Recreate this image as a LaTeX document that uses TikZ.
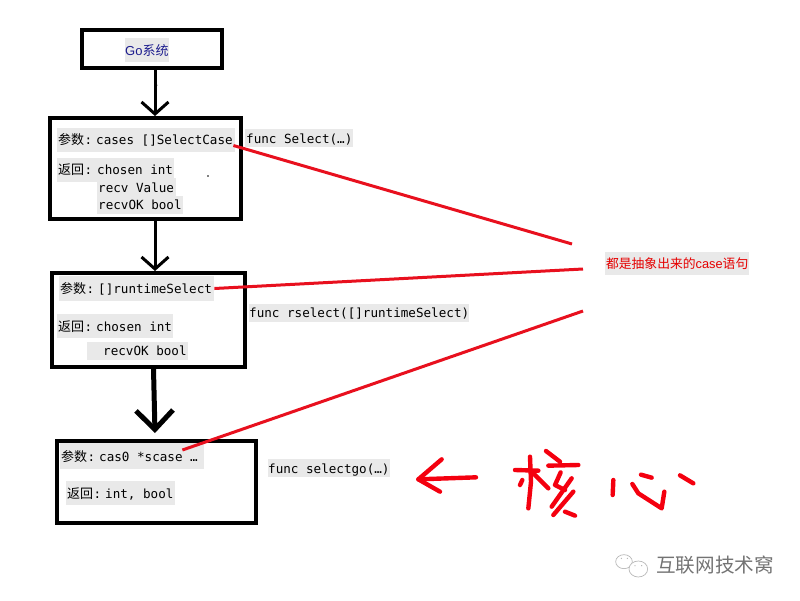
\documentclass[tikz,border=0pt]{standalone}
\usepackage{fontspec}
\usetikzlibrary{arrows.meta}
\setmainfont{Liberation Sans}
\newfontfamily\cjk{Noto Sans CJK SC}
\newfontfamily\code{DejaVu Sans Mono}
\definecolor{chipbg}{HTML}{E9E9E9}
\definecolor{inkred}{HTML}{E8101E}
\definecolor{penred}{HTML}{F4000F}
\definecolor{navy}{HTML}{1C1C8E}
\newcommand{\lbl}[1]{\makebox[38pt][l]{\hspace{1pt}{\cjk\fontsize{13}{13}\selectfont #1}\hspace{0.5pt}:}}
\tikzset{
  flowbox/.style={draw=black,line width=4pt,fill=none,inner sep=0pt},
  chip/.style={fill=chipbg,anchor=west,inner ysep=0pt,inner xsep=0pt,text=black,align=flush left,
    font=\code\fontsize{12.6}{13}\selectfont,text height=11pt,text depth=1pt},
  link/.style={draw=inkred,line width=3pt},
  down/.style={draw=black,line width=3pt,-{Straight Barb[length=12pt,width=27pt]}},
  pen/.style={draw=penred,line width=4.4pt,line cap=round,line join=round},
  bubble/.style={draw=gray!55,line width=.7pt,fill=white}
}
\begin{document}
\begin{tikzpicture}[x=1pt,y=-1pt]
\useasboundingbox (0,0) rectangle (800,600);
% boxes
\node[flowbox,minimum width=140pt,minimum height=38pt] (go) at (152,49) {};
\node[flowbox,minimum width=191pt,minimum height=101pt] (sel) at (145.5,168.5) {};
\node[flowbox,minimum width=193pt,minimum height=94pt] (rsel) at (148.5,320) {};
\node[flowbox,minimum width=199pt,minimum height=82pt] (sgo) at (156.5,482) {};
% top label
\node[chip,font=\fontsize{13}{13}\selectfont,text=navy,minimum height=24pt] (gotxt) at (125,50) {Go{\cjk 系统}};
% first box
\node[chip,minimum height=24pt,text width=178pt] (p1) at (57,139.5) {\lbl{参数}\hspace{1pt}cases []SelectCase};
\node[chip,minimum height=24pt,text width=117pt] (r1) at (57,169.5) {\lbl{返回}\hspace{2pt}chosen int};
\node[chip,minimum height=18pt,text width=79pt] (r1b) at (97,187) {\hspace{1pt}recv Value};
\node[chip,minimum height=18pt,text width=86pt] (r1c) at (97,204.5) {\hspace{1pt}recvOK bool};
\node[chip,minimum height=18pt] (f1) at (245,138) {\hspace{1pt}func Select(…)\hspace{1pt}};
% second box
\node[chip,minimum height=25pt,text width=155pt] (p2) at (59,288.5) {\lbl{参数}\hspace{1pt}[]runtimeSelect};
\node[chip,minimum height=24pt,text width=116pt] (r2) at (57,326) {\lbl{返回}\hspace{1pt}chosen int};
\node[chip,minimum height=18pt,text width=101pt] (r2b) at (87,350.5) {\hspace{16pt}recvOK bool};
\node[chip,minimum height=18pt] (f2) at (249,312.5) {func rselect([]runtimeSelect)};
% third box
\node[chip,minimum height=26pt,text width=144pt] (p3) at (60,456) {\lbl{参数}\hspace{1pt}cas0 *scase …};
\node[chip,minimum height=24pt,text width=109pt] (r3) at (66,493) {\lbl{返回}\hspace{1pt}int, bool};
\node[chip,minimum height=18pt] (f3) at (268,468) {func selectgo(…)};
% note
\node[chip,font=\fontsize{12.8}{13}\selectfont,text=red!90!black,minimum height=23pt,text width=144pt,align=flush center] (note) at (605,263.5) {{\cjk 都是抽象出来的}case{\cjk 语句}};
% connectors
\coordinate (e1) at (572,244);
\coordinate (e2) at (583,269);
\coordinate (e3) at (583,311);
\draw[link] ([xshift=-2pt,yshift=-6pt]p1.east) -- (e1);
\draw[link] (p2.east) -- (e2);
\draw[link] ([xshift=-22pt,yshift=6pt]p3.east) -- (e3);
\draw[down] ([xshift=3pt]go.south) -- ([xshift=9.5pt]sel.north);
\draw[down] ([xshift=9.5pt]sel.south) -- ([xshift=6.5pt]rsel.north);
\draw[down,line width=5pt,-{Straight Barb[length=19pt,width=37pt]}] ([xshift=5pt]rsel.south) -- ([xshift=-1.5pt,yshift=6pt]sgo.north);
% specks
\fill (208,176) circle (.8pt);
\fill (157,85) circle (.5pt);
% hand-drawn arrow
\begin{scope}[shift={(400,430)},x=0.3333pt,y=-0.3333pt]
\draw[pen] (228,142) -- (55,148);
\draw[pen] (125,88) -- (55,148) -- (120,185);
\end{scope}
% hand-drawn character 1
\begin{scope}[shift={(505,445)},x=0.3333pt,y=-0.3333pt]
\draw[pen] (30,75) -- (100,77);
\draw[pen] (75,35) -- (78,110) -- (70,190);
\draw[pen] (52,105) -- (45,120);
\draw[pen] (85,85) -- (130,130);
\draw[pen] (123,18) -- (165,50);
\draw[pen] (130,62) -- (220,60);
\draw[pen] (167,82) -- (150,120) -- (180,135);
\draw[pen] (200,100) -- (140,185);
\draw[pen] (205,140) -- (145,210);
\draw[pen] (180,200) -- (210,212);
\end{scope}
% hand-drawn character 2
\begin{scope}[shift={(605,460)},x=0.3333pt,y=-0.3333pt]
\draw[pen] (25,60) -- (23,105);
\draw[pen] (82,72) -- (100,100) -- (170,145) -- (178,95);
\draw[pen] (108,44) -- (140,53);
\draw[pen] (225,46) -- (265,70);
\end{scope}
% watermark icon
\begin{scope}[shift={(610,545)},x=0.3333pt,y=-0.3333pt]
\draw[bubble] (42,50) ellipse [x radius=25,y radius=21];
\draw[bubble] (85,72) ellipse [x radius=28,y radius=24];
\fill[gray!60] (34,40) circle (2);
\fill[gray!60] (52,40) circle (2);
\fill[gray!60] (75,62) circle (2);
\fill[gray!60] (95,62) circle (2);
\end{scope}
\node[anchor=west,inner sep=0pt,text=black!55,font=\cjk\fontsize{19.6}{20}\selectfont] (mark) at (656,565) {互联网技术窝};
\end{tikzpicture}
\end{document}
